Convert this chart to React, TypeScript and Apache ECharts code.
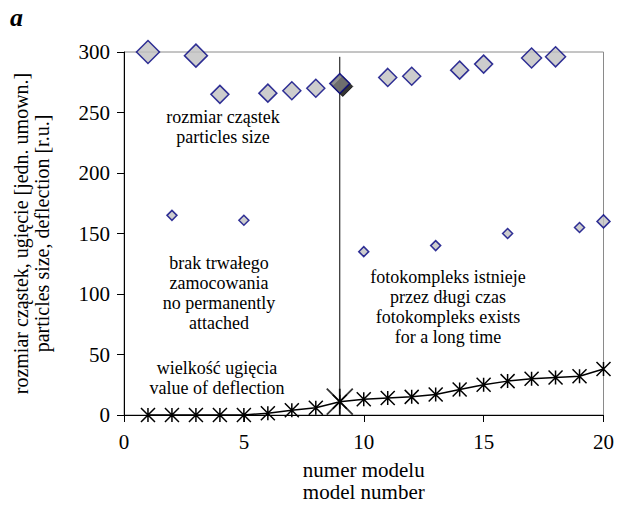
import React, { useEffect, useRef } from "react";
import * as echarts from "echarts";

// particles size (large diamonds)
const sizeModels = [1, 3, 4, 6, 7, 8, 9, 11, 12, 14, 15, 17, 18];
const sizeValues = [300, 297, 265, 266, 268, 270, 274, 279, 280, 285, 290, 295, 296];
// no permanently attached (small diamonds)
const attachModels = [2, 5, 10, 13, 16, 19, 20];
const attachValues = [165, 161, 135, 140, 150, 155, 160];
// value of deflection
const deflModels = [1, 2, 3, 4, 5, 6, 7, 8, 9, 10, 11, 12, 13, 14, 15, 16, 17, 18, 19, 20];
const deflValues = [0, 0, 0, 0, 0, 1.5, 4, 6, 11, 13, 14, 15, 17, 21, 25, 28, 30, 31, 32, 38];
// highlighted model and divider
const highlightModel = 9;
const dividerTop = 296;
const xTicks = [0, 5, 10, 15, 20];
const yTicks = [0, 50, 100, 150, 200, 250, 300];

const FONT = "Liberation Serif";
const ASTERISK = "path://M10,0L10,20M0,0L20,20M20,0L0,20";

export default function App() {
  const ref = useRef<HTMLDivElement>(null);
  useEffect(() => {
    if (!ref.current) return;
    const chart = echarts.init(ref.current, undefined, { renderer: "svg" });
    const sizeData = sizeModels.map((m, i) => [m, sizeValues[i]]);
    const attachData = attachModels.map((m, i) => [m, attachValues[i]]);
    const deflData = deflModels.map((m, i) => [m, deflValues[i]]);
    const hiSize = sizeData.filter((d) => d[0] === highlightModel);
    const hiDefl = deflData.filter((d) => d[0] === highlightModel);

    const text = (x: number, y: number, t: string) => ({
      type: "text",
      x,
      y,
      style: {
        text: t,
        fontFamily: FONT,
        fontSize: 18,
        fill: "#000",
        align: "center",
        verticalAlign: "middle",
        lineHeight: 20,
      },
    });

    chart.setOption({
      animation: false,
      textStyle: { fontFamily: FONT },
      grid: {
        left: 124,
        right: 13,
        top: 52,
        bottom: 98,
        show: true,
        borderColor: "#8a8a8a",
        borderWidth: 1,
      },
      xAxis: {
        type: "value",
        min: xTicks[0],
        max: xTicks[xTicks.length - 1],
        interval: 5,
        name: "numer modelu\nmodel number",
        nameLocation: "middle",
        nameGap: 44,
        nameTextStyle: { fontFamily: FONT, fontSize: 21, color: "#000", lineHeight: 22 },
        axisLine: { show: true, onZero: false, lineStyle: { color: "#000", width: 1 } },
        axisTick: { show: true, length: 7, lineStyle: { color: "#000" } },
        axisLabel: { fontFamily: FONT, fontSize: 21, color: "#000", margin: 16 },
        splitLine: { show: false },
      },
      yAxis: {
        type: "value",
        min: yTicks[0],
        max: yTicks[yTicks.length - 1],
        interval: 50,
        name: "rozmiar cząstek, ugięcie [jedn. umown.]\nparticles size, deflection [r.u.]",
        nameLocation: "middle",
        nameGap: 72,
        nameTextStyle: { fontFamily: FONT, fontSize: 20, color: "#000", lineHeight: 21 },
        axisLine: { show: true, onZero: false, lineStyle: { color: "#000", width: 1 } },
        axisTick: { show: true, length: 7, lineStyle: { color: "#000" } },
        axisLabel: { fontFamily: FONT, fontSize: 21, color: "#000", margin: 14 },
        splitLine: { show: false },
      },
      graphic: [
        {
          type: "text",
          left: 10,
          top: 4,
          style: { text: "a", fontFamily: FONT, fontSize: 26, fontWeight: "bold", fontStyle: "italic", fill: "#000" },
        },
        text(223, 127, "rozmiar cząstek\nparticles size"),
        text(219, 293, "brak trwałego\nzamocowania\nno permanently\nattached"),
        text(217, 378, "wielkość ugięcia\nvalue of deflection"),
        text(448, 307, "fotokompleks istnieje\nprzez długi czas\nfotokompleks exists\nfor a long time"),
      ],
      series: [
        {
          type: "line",
          data: [
            [highlightModel, 0],
            [highlightModel, dividerTop],
          ],
          symbol: "none",
          lineStyle: { color: "#000", width: 1 },
          silent: true,
          z: 1,
        },
        {
          type: "line",
          data: deflData,
          symbol: ASTERISK,
          symbolSize: 14,
          lineStyle: { color: "#000", width: 1.5 },
          itemStyle: { color: "none", borderColor: "#000", borderWidth: 1.5 },
          z: 3,
        },
        {
          type: "scatter",
          data: hiDefl,
          symbol: ASTERISK,
          symbolSize: 26,
          itemStyle: { color: "none", borderColor: "#000", borderWidth: 1.8 },
          z: 4,
        },
        {
          type: "scatter",
          data: sizeData,
          symbol: "diamond",
          symbolSize: (v: number[]) => (v[1] >= 297 ? 23 : v[1] >= 295 ? 20 : 18),
          itemStyle: { color: "#c0c0c0", borderColor: "#000080", borderWidth: 1.5 },
          z: 3,
        },
        {
          type: "scatter",
          data: hiSize,
          symbol: "diamond",
          symbolSize: 20,
          symbolOffset: [3, 3],
          itemStyle: { color: "#000", borderColor: "#000", borderWidth: 1 },
          z: 4,
        },
        {
          type: "scatter",
          data: hiSize,
          symbol: "diamond",
          symbolSize: 20,
          itemStyle: { color: "#7f7f7f", borderColor: "#000080", borderWidth: 1.5 },
          z: 5,
        },
        {
          type: "scatter",
          data: attachData,
          symbol: "diamond",
          symbolSize: (v: number[]) => (v[0] === 20 ? 13 : 10),
          itemStyle: { color: "#c0c0c0", borderColor: "#000080", borderWidth: 1.5 },
          z: 3,
        },
      ],
    });
    return () => chart.dispose();
  }, []);
  return <div ref={ref} style={{ width: 617, height: 513, position: "absolute", left: 0, top: 0 }} />;
}
